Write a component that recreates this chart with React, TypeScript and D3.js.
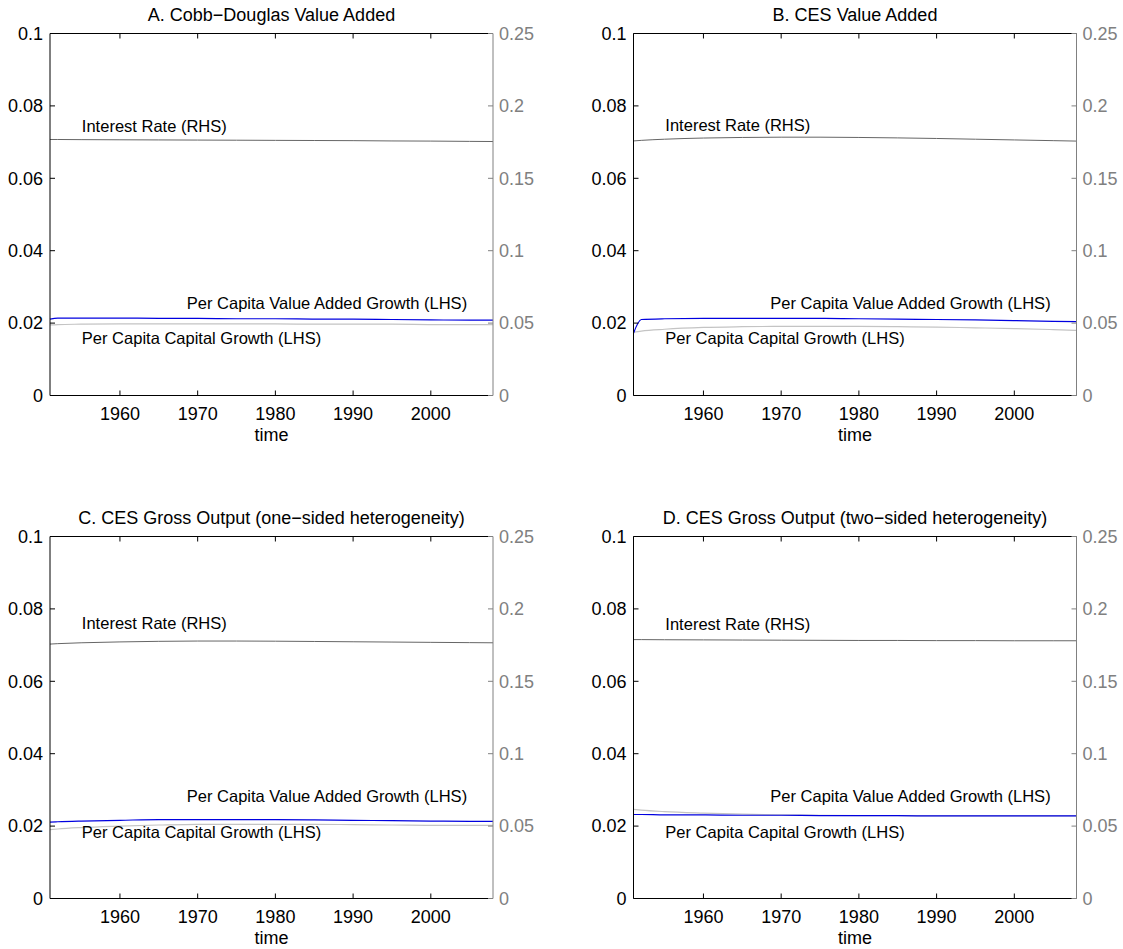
import * as d3 from "d3";

// years sampled from the simulated paths
const years = [1951, 1952, 1955, 1960, 1965, 1970, 1975, 1980, 1985, 1990, 1995, 2000, 2005, 2008];

// per capita value added growth (LHS)
const valueAddedA = [0.0211, 0.0214, 0.0214, 0.0214, 0.0213, 0.0213, 0.0212, 0.0212, 0.0211, 0.0211, 0.021, 0.0209, 0.0208, 0.0208];
const valueAddedB = [0.0172, 0.021, 0.0212, 0.0213, 0.0213, 0.0213, 0.0213, 0.0212, 0.0211, 0.021, 0.0209, 0.0207, 0.0205, 0.0204];
const valueAddedC = [0.0211, 0.0212, 0.0214, 0.0216, 0.0218, 0.0218, 0.0218, 0.0218, 0.0217, 0.0216, 0.0215, 0.0214, 0.0213, 0.0213];
const valueAddedD = [0.0232, 0.0232, 0.0231, 0.0231, 0.023, 0.023, 0.0229, 0.0229, 0.0229, 0.0228, 0.0228, 0.0228, 0.0228, 0.0228];

// per capita capital growth (LHS)
const capitalA = [0.0195, 0.0196, 0.0197, 0.0198, 0.0198, 0.0198, 0.0198, 0.0198, 0.0197, 0.0197, 0.0197, 0.0196, 0.0196, 0.0196];
const capitalB = [0.0175, 0.0178, 0.0183, 0.0188, 0.019, 0.0191, 0.0191, 0.0191, 0.019, 0.0189, 0.0187, 0.0185, 0.0182, 0.018];
const capitalC = [0.019, 0.0192, 0.0196, 0.02, 0.0203, 0.0205, 0.0205, 0.0205, 0.0205, 0.0204, 0.0203, 0.0202, 0.0202, 0.0202];
const capitalD = [0.0246, 0.0244, 0.024, 0.0236, 0.0233, 0.0231, 0.023, 0.0229, 0.0229, 0.0228, 0.0228, 0.0228, 0.0228, 0.0228];

// interest rate (RHS)
const interestA = [0.1768, 0.1768, 0.1767, 0.1766, 0.1765, 0.1764, 0.1763, 0.1762, 0.1761, 0.176, 0.1758, 0.1757, 0.1755, 0.1754];
const interestB = [0.1758, 0.1762, 0.177, 0.1778, 0.1782, 0.1784, 0.1784, 0.1782, 0.1779, 0.1775, 0.177, 0.1765, 0.176, 0.1757];
const interestC = [0.1757, 0.176, 0.1766, 0.1772, 0.1776, 0.1778, 0.1778, 0.1777, 0.1775, 0.1773, 0.1771, 0.1769, 0.1767, 0.1766];
const interestD = [0.1788, 0.1788, 0.1787, 0.1786, 0.1785, 0.1784, 0.1783, 0.1782, 0.1782, 0.1781, 0.1781, 0.178, 0.178, 0.178];

const titles = [
  "A. Cobb\u2212Douglas Value Added",
  "B. CES Value Added",
  "C. CES Gross Output (one\u2212sided heterogeneity)",
  "D. CES Gross Output (two\u2212sided heterogeneity)",
];

const xTicks = [1960, 1970, 1980, 1990, 2000];
const leftTicks = [0, 0.02, 0.04, 0.06, 0.08, 0.1];
const rightTicks = [0, 0.05, 0.1, 0.15, 0.2, 0.25];

// label anchors: [year, LHS value] for interest, value added, capital
const labelSpots = [
  [[1955.1, 0.0729], [1968.6, 0.0238], [1955.1, 0.0143]],
  [[1955.1, 0.0731], [1968.6, 0.0238], [1955.1, 0.0143]],
  [[1955.1, 0.0745], [1968.6, 0.0266], [1955.1, 0.0166]],
  [[1955.1, 0.0742], [1968.6, 0.0266], [1955.1, 0.0167]],
];

const panels = [
  { va: valueAddedA, cap: capitalA, ir: interestA },
  { va: valueAddedB, cap: capitalB, ir: interestB },
  { va: valueAddedC, cap: capitalC, ir: interestC },
  { va: valueAddedD, cap: capitalD, ir: interestD },
];

const frames = [
  { x0: 50, y0: 33.5 },
  { x0: 633.5, y0: 33.5 },
  { x0: 50, y0: 536.5 },
  { x0: 633.5, y0: 536.5 },
];
const W = 443;
const H = 362;
const FONT = "'Liberation Sans', Arial, Helvetica, sans-serif";
const GRAY = "#808080";

function Panel({ idx }: { idx: number }) {
  const { x0, y0 } = frames[idx];
  const d = panels[idx];
  const x = d3.scaleLinear().domain([1951, 2008]).range([x0, x0 + W]);
  const yL = d3.scaleLinear().domain([0, 0.1]).range([y0 + H, y0]);
  const yR = d3.scaleLinear().domain([0, 0.25]).range([y0 + H, y0]);

  const lineL = d3
    .line<number>()
    .x((_, i) => x(years[i]))
    .y((v) => yL(v))
    .curve(d3.curveMonotoneX);
  const lineR = d3
    .line<number>()
    .x((_, i) => x(years[i]))
    .y((v) => yR(v))
    .curve(d3.curveMonotoneX);

  const spots = labelSpots[idx];
  const tl = 5;

  return (
    <g fontFamily={FONT}>
      <text x={x0 + W / 2} y={y0 - 13} textAnchor="middle" fontSize={18}>
        {titles[idx]}
      </text>

      <path d={lineR(d.ir) || ""} fill="none" stroke="#666" strokeWidth={1} />
      <path d={lineL(d.cap) || ""} fill="none" stroke="#c4c4c4" strokeWidth={1.2} />
      <path d={lineL(d.va) || ""} fill="none" stroke="#0000e0" strokeWidth={1.2} />

      {/* frame: left, bottom, top black; right gray */}
      <line x1={x0} x2={x0} y1={y0} y2={y0 + H} stroke="#000" />
      <line x1={x0} x2={x0 + W} y1={y0 + H} y2={y0 + H} stroke="#000" />
      <line x1={x0} x2={x0 + W} y1={y0} y2={y0} stroke="#000" />
      <line x1={x0 + W} x2={x0 + W} y1={y0} y2={y0 + H} stroke={GRAY} />

      {xTicks.map((t) => (
        <g key={t}>
          <line x1={x(t)} x2={x(t)} y1={y0 + H} y2={y0 + H - tl} stroke="#000" />
          <line x1={x(t)} x2={x(t)} y1={y0} y2={y0 + tl} stroke="#000" />
          <text x={x(t)} y={y0 + H + 24} textAnchor="middle" fontSize={18}>
            {t}
          </text>
        </g>
      ))}
      <text x={x0 + W / 2} y={y0 + H + 45} textAnchor="middle" fontSize={18}>
        time
      </text>

      {leftTicks.map((t) => (
        <g key={t}>
          <line x1={x0} x2={x0 + tl} y1={yL(t)} y2={yL(t)} stroke="#000" />
          <text x={x0 - 7} y={yL(t)} dy="0.35em" textAnchor="end" fontSize={18}>
            {d3.format("~g")(t)}
          </text>
        </g>
      ))}
      {rightTicks.map((t) => (
        <g key={t}>
          <line x1={x0 + W} x2={x0 + W - tl} y1={yR(t)} y2={yR(t)} stroke={GRAY} />
          <text x={x0 + W + 6} y={yR(t)} dy="0.35em" fontSize={18} fill={GRAY}>
            {d3.format("~g")(t)}
          </text>
        </g>
      ))}

      <text x={x(spots[0][0])} y={yL(spots[0][1])} fontSize={16.5}>
        Interest Rate (RHS)
      </text>
      <text x={x(spots[1][0])} y={yL(spots[1][1])} fontSize={16.5}>
        Per Capita Value Added Growth (LHS)
      </text>
      <text x={x(spots[2][0])} y={yL(spots[2][1])} fontSize={16.5}>
        Per Capita Capital Growth (LHS)
      </text>
    </g>
  );
}

export default function App() {
  return (
    <svg
      width={1123}
      height={949}
      style={{ position: "absolute", left: 0, top: 0, background: "#fff" }}
    >
      {panels.map((_, i) => (
        <Panel key={i} idx={i} />
      ))}
    </svg>
  );
}
